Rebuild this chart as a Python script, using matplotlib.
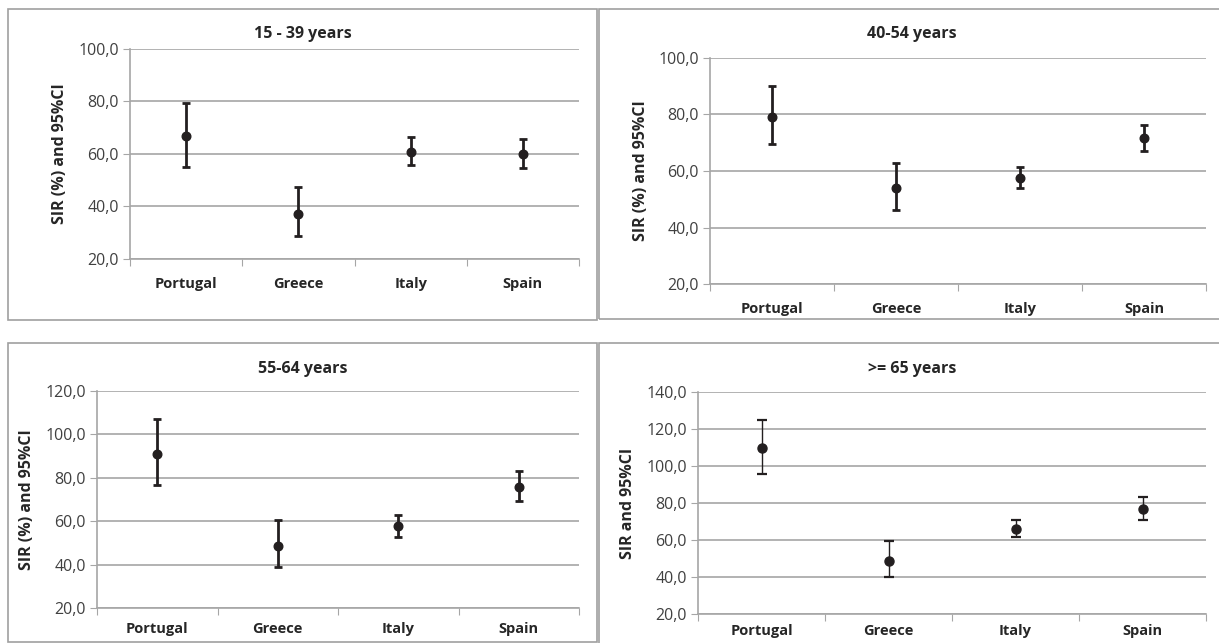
import matplotlib
matplotlib.use('Agg')
import matplotlib.pyplot as plt
from matplotlib.patches import Rectangle
import numpy as np

countries = ['Portugal', 'Greece', 'Italy', 'Spain']

# SIR point estimates and 95% CI per age group
sir_15_39 = [66.7, 37.3, 60.9, 59.9]
low_15_39 = [55.2, 28.9, 55.9, 54.5]
high_15_39 = [79.6, 47.3, 66.3, 65.6]

sir_40_54 = [79.2, 53.9, 57.5, 71.6]
low_40_54 = [69.6, 46.1, 54.0, 67.0]
high_40_54 = [90.1, 62.7, 61.3, 76.2]

sir_55_64 = [90.9, 48.8, 57.6, 75.8]
low_55_64 = [76.9, 38.9, 52.7, 69.1]
high_55_64 = [107.0, 60.6, 62.9, 83.0]

sir_65 = [110.0, 48.8, 65.9, 76.5]
low_65 = [95.9, 39.8, 61.4, 70.8]
high_65 = [125.1, 59.2, 70.6, 83.0]

W, H = 1219, 643
plt.rcParams['font.family'] = ['Open Sans', 'DejaVu Sans']
fig = plt.figure(figsize=(W / 100, H / 100), dpi=100)

GRID = '#a6a6a6'
MARK = '#231f20'


def px_box(left, right, top, bottom):
    # pixel box (from top left) -> figure fraction rect
    return [left / W, 1 - bottom / H, (right - left) / W, (bottom - top) / H]


def frame(left, right, top, bottom):
    x, y, w, h = px_box(left, right, top, bottom)
    fig.patches.append(Rectangle((x, y), w, h, transform=fig.transFigure,
                                 fill=False, edgecolor='#a0a0a0', lw=1.2))


def panel(box, ymax, sir, low, high, title, title_xy, ylabel, ylabel_x,
          thin=False, label_pad=13):
    ax = fig.add_axes(px_box(*box))
    x = np.arange(len(countries))
    err = [np.array(sir) - np.array(low), np.array(high) - np.array(sir)]
    if thin:
        ax.errorbar(x, sir, yerr=err, fmt='o', color=MARK, ms=6.5,
                    elinewidth=1.0, capsize=3.5, capthick=1.6, zorder=3)
    else:
        ax.errorbar(x, sir, yerr=err, fmt='o', color=MARK, ms=6.2,
                    elinewidth=2.0, capsize=3.0, capthick=2.0, zorder=3)
    ax.set_xlim(-0.5, len(countries) - 0.5)
    ax.set_ylim(20, ymax)
    ticks = np.arange(20, ymax + 1, 20)
    ax.set_yticks(ticks)
    ax.set_yticklabels([f'{t:.1f}'.replace('.', ',') for t in ticks],
                       fontsize=11.5, color='#404040')
    # major ticks at category borders, labels on minor ticks at centres
    ax.set_xticks(np.arange(-0.5, len(countries), 1.0))
    ax.set_xticklabels([])
    ax.set_xticks(x, minor=True)
    ax.set_xticklabels(countries, minor=True, fontsize=10.5, fontweight='bold',
                       color='#262626')
    ax.tick_params(axis='x', which='minor', length=0, pad=label_pad)
    ax.tick_params(axis='x', which='major', length=5, color=GRID, direction='out')
    ax.tick_params(axis='y', length=5, color=GRID, direction='out', pad=3)
    ax.yaxis.grid(True, color=GRID, lw=1.2)
    ax.set_axisbelow(True)
    for s in ['top', 'right']:
        ax.spines[s].set_visible(False)
    for s in ['left', 'bottom']:
        ax.spines[s].set_color(GRID)
        ax.spines[s].set_linewidth(1.2)
    fig.text(title_xy[0] / W, 1 - title_xy[1] / H, title, ha='center', va='center',
             fontsize=11.5, fontweight='bold', color='#262626')
    fig.text(ylabel_x / W, 1 - ((box[2] + box[3]) / 2) / H, ylabel, rotation=90,
             ha='center', va='center', fontsize=11.5, fontweight='bold', color='#262626')
    return ax


frame(8, 597, 9, 320)
frame(599, 1230, 9, 319)
frame(8, 597, 343, 642)
frame(599, 1230, 343, 660)

panel((130, 579, 49, 259), 100, sir_15_39, low_15_39, high_15_39,
      '15 - 39 years', (303, 34), 'SIR (%) and 95%CI', 60)
panel((710, 1206, 58, 284), 100, sir_40_54, low_40_54, high_40_54,
      '40-54 years', (912, 34), 'SIR (%) and 95%CI', 641)
panel((97, 579, 391, 608), 120, sir_55_64, low_55_64, high_55_64,
      '55-64 years', (303, 369), 'SIR (%) and 95%CI', 27, label_pad=10)
panel((698, 1206, 392, 614), 140, sir_65, low_65, high_65,
      '>= 65 years', (912, 369), 'SIR and 95%CI', 628, thin=True, label_pad=7)

fig.savefig('out.png', dpi=100)
